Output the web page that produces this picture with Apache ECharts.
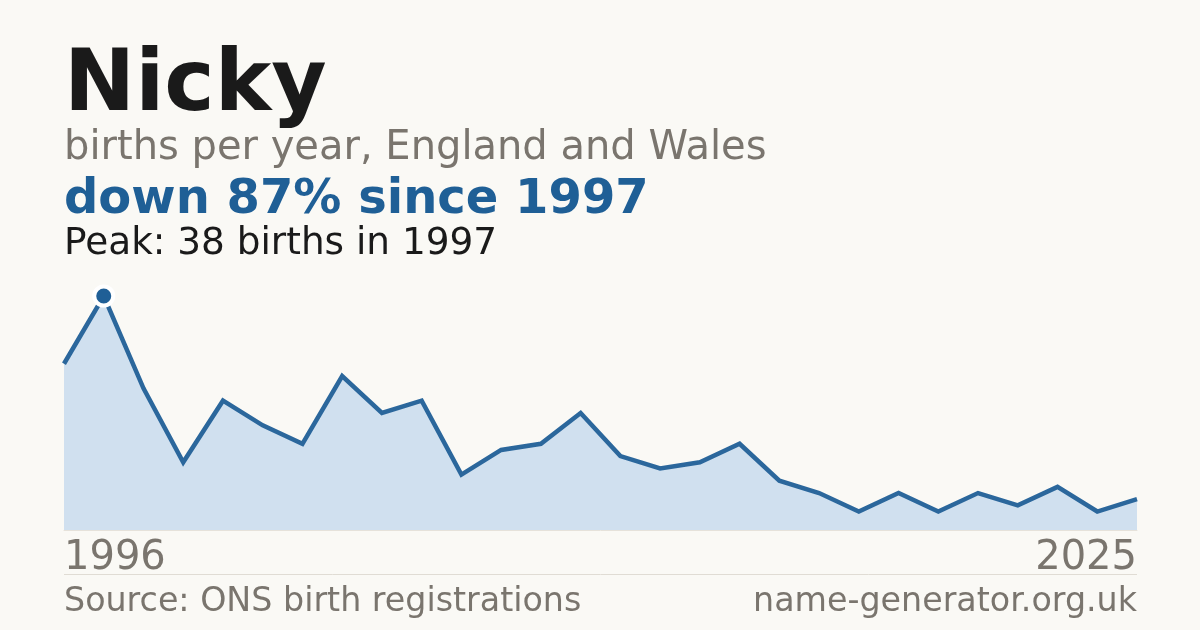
<!DOCTYPE html>
<html>
<head>
<meta charset="utf-8">
<title>Nicky</title>
<script src="https://cdn.jsdelivr.net/npm/echarts@6/dist/echarts.min.js"></script>
<style>
  html, body { margin: 0; padding: 0; background: #faf9f5; }
  #chart { width: 1200px; height: 630px; }
</style>
</head>
<body>
<div id="chart"></div>
<script>
// 数据
const years = ['1996', '1997', '1998', '1999', '2000', '2001', '2002', '2003', '2004', '2005',
  '2006', '2007', '2008', '2009', '2010', '2011', '2012', '2013', '2014', '2015',
  '2016', '2017', '2018', '2019', '2020', '2021', '2022', '2023'];
const births = [27, 38, 23, 11, 21, 17, 14, 25, 19, 21,
  9, 13, 14, 19, 12, 10, 11, 14, 8, 6,
  3, 6, 3, 6, 4, 7, 3, 5];
const edgeLabels = ['1996', '2025'];

const FONT = 'DejaVu Sans';
const BLUE = '#1f5f96';
const GREY = '#7a756e';

const peakIndex = births.indexOf(Math.max(...births));

const chart = echarts.init(document.getElementById('chart'));

const option = {
  backgroundColor: '#faf9f5',
  animation: false,
  grid: { left: 64, right: 63, top: 296, bottom: 100 },
  xAxis: {
    type: 'category',
    data: years,
    boundaryGap: false,
    axisLine: { show: true, lineStyle: { color: '#e6e2da', width: 1 } },
    axisTick: { show: false },
    splitLine: { show: false },
    axisLabel: {
      interval: (i) => i === 0 || i === years.length - 1,
      formatter: (v, i) => (i === 0 ? edgeLabels[0] : edgeLabels[1]),
      alignMinLabel: 'left',
      alignMaxLabel: 'right',
      margin: 9,
      color: GREY,
      fontFamily: FONT,
      fontSize: 40,
      lineHeight: 40,
      verticalAlign: 'top'
    }
  },
  yAxis: {
    type: 'value',
    min: 0,
    max: 38,
    show: false,
    splitLine: { show: false }
  },
  series: [
    {
      type: 'line',
      data: births,
      symbol: 'none',
      lineStyle: { color: '#2b679c', width: 4.5, join: 'miter' },
      areaStyle: { color: '#d0e0ef', opacity: 1 },
      z: 2
    },
    {
      // 峰值标记
      type: 'scatter',
      data: [[peakIndex, births[peakIndex]]],
      symbol: 'circle',
      symbolSize: 19,
      itemStyle: { color: BLUE, borderColor: '#ffffff', borderWidth: 4, opacity: 1 },
      z: 3
    }
  ],
  graphic: [
    {
      type: 'text', left: 64, top: 45,
      style: { text: 'Nicky', font: 'bold 85px "DejaVu Sans"', fill: '#1a1a1a' }
    },
    {
      type: 'text', left: 64, top: 129,
      style: { text: 'births per year, England and Wales', font: '40px "DejaVu Sans"', fill: GREY }
    },
    {
      type: 'text', left: 64, top: 177,
      style: { text: 'down 87% since 1997', font: 'bold 48px "DejaVu Sans"', fill: BLUE }
    },
    {
      type: 'text', left: 64, top: 226,
      style: { text: 'Peak: 38 births in 1997', font: '37.4px "DejaVu Sans"', fill: '#1a1a1a' }
    },
    {
      type: 'line',
      shape: { x1: 64, y1: 574.5, x2: 1137, y2: 574.5 },
      style: { stroke: '#e0dcd4', lineWidth: 1 }
    },
    {
      type: 'text', left: 64, top: 586,
      style: { text: 'Source: ONS birth registrations', font: '33.3px "DejaVu Sans"', fill: GREY }
    },
    {
      type: 'text', right: 63, top: 586,
      style: { text: 'name-generator.org.uk', font: '33.3px "DejaVu Sans"', fill: GREY }
    }
  ]
};

option && chart.setOption(option);
</script>
</body>
</html>
